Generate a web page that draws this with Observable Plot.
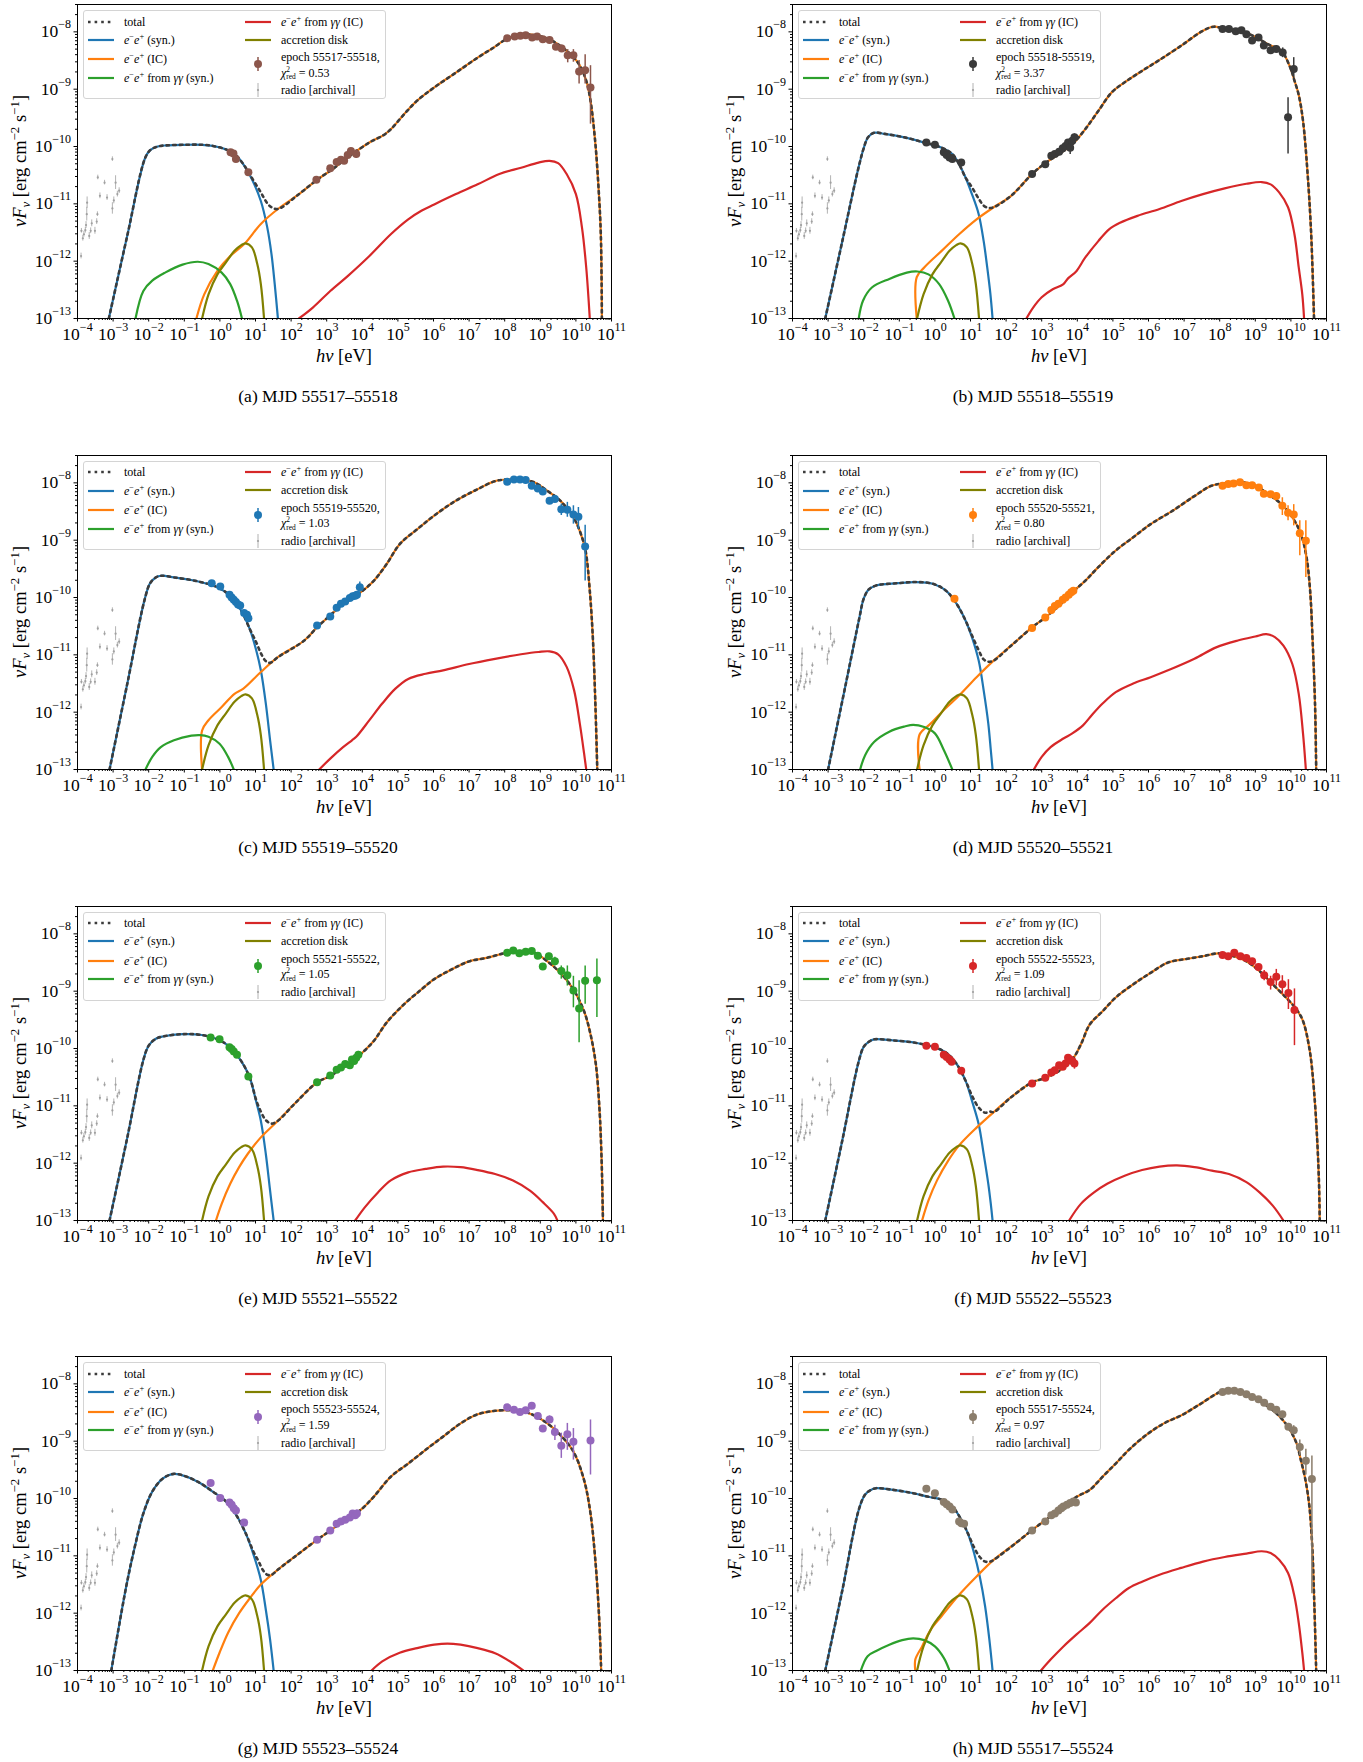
<!DOCTYPE html>
<html><head><meta charset="utf-8">
<script src="https://cdn.jsdelivr.net/npm/d3@7"></script>
<script src="https://cdn.jsdelivr.net/npm/@observablehq/plot@0.6"></script>
<style>
body{margin:0;background:#fff;}
#root{position:relative;width:1363px;height:1762px;font-family:"Liberation Serif","Times New Roman",serif;color:#000;overflow:hidden;}
.panel{position:absolute;}
.panel svg, .panel svg text{font-family:"Liberation Serif","Times New Roman",serif !important;}
.lbl{position:absolute;white-space:nowrap;font-size:18.5px;line-height:1;}
.cap{font-size:17.5px;}
.legend{position:absolute;width:303px;height:89px;box-sizing:border-box;border:1px solid #d4d4d4;border-radius:3px;background:rgba(255,255,255,0.8);font-size:12px;}
.li{position:absolute;white-space:nowrap;line-height:12px;height:12px;}
.hd{position:absolute;width:26px;height:12px;}
sup,sub{font-size:0.7em;line-height:0;}
.ss{display:inline-block;vertical-align:-0.35em;font-size:0.62em;line-height:1;}
.ss span{display:block;}
</style></head>
<body><div id="root"></div>
<script>
// ---------- axis ticks & labels ----------
const xTickExps = [-4,-3,-2,-1,0,1,2,3,4,5,6,7,8,9,10,11];
const yTickExps = [-13,-12,-11,-10,-9,-8];
const panelLetters = ["a","b","c","d","e","f","g","h"];
const mjdRanges = ["55517–55518","55518–55519","55519–55520","55520–55521","55521–55522","55522–55523","55523–55524","55517–55524"];
const epochLabels = ["55517-55518","55518-55519","55519-55520","55520-55521","55521-55522","55522-55523","55523-55524","55517-55524"];
const chi2 = ["0.53","3.37","1.03","0.80","1.05","1.09","1.59","0.97"];

// ---------- shared components: [log10 E/eV, log10 nuFnu] ----------
const disk = [[-0.5,-13],[-0.32,-12.58],[-0.07,-12.23],[0.17,-12.02],[0.41,-11.82],[0.6,-11.72],[0.72,-11.69],[0.9,-11.76],[1.05,-12.05],[1.15,-12.4],[1.24,-13]];
// radio archival: [logE, logF, err dex]
const radio = [[-3.9,-11.91,0.05],[-3.89,-11.47,0.04],[-3.85,-11.6,0.05],[-3.82,-11.53,0.05],[-3.78,-11.46,0.05],[-3.76,-11.37,0.06],[-3.74,-11.18,0.12],[-3.73,-10.98,0.1],[-3.67,-11.56,0.06],[-3.63,-11.47,0.05],[-3.6,-11.34,0.06],[-3.51,-11.47,0.06],[-3.46,-11.31,0.05],[-3.44,-11.18,0.04],[-3.43,-10.54,0.04],[-3.37,-10.86,0.05],[-3.24,-10.63,0.04],[-3.17,-10.89,0.05],[-3.02,-10.22,0.04],[-3.02,-11.08,0.1],[-2.98,-10.94,0.06],[-2.93,-10.63,0.12],[-2.88,-10.83,0.05],[-2.83,-10.77,0.05]];

// ---------- panel (a) ----------
const syn_a = [[-3.12,-13],[-2.6,-11.55],[-2.1,-10.2],[-1.95,-10.06],[-1.75,-10.0],[-1.5,-9.98],[-1.0,-9.97],[-0.5,-9.97],[-0.2,-9.99],[0.17,-10.05],[0.41,-10.13],[0.66,-10.31],[0.9,-10.57],[1.15,-10.95],[1.33,-11.41],[1.45,-11.88],[1.54,-12.4],[1.63,-13]];
const ic_a = [[-0.66,-13],[-0.44,-12.58],[-0.07,-12.17],[0.29,-11.91],[0.7,-11.69],[1.15,-11.35],[1.63,-11.09],[2.2,-10.84],[2.73,-10.58],[3.2,-10.38],[3.59,-10.19],[4.2,-9.93],[4.6,-9.8],[4.8,-9.7],[5.17,-9.44],[5.54,-9.2],[6.02,-8.97],[6.63,-8.71],[7.24,-8.45],[7.7,-8.27],[8.04,-8.13],[8.46,-8.05],[8.95,-8.07],[9.32,-8.15],[9.68,-8.3],[10.05,-8.53],[10.29,-8.85],[10.41,-9.2],[10.54,-9.9],[10.63,-10.66],[10.7,-11.53],[10.73,-13]];
const ggsyn_a = [[-2.37,-13],[-2.15,-12.52],[-1.9,-12.34],[-1.54,-12.2],[-1.05,-12.06],[-0.62,-12.01],[-0.32,-12.05],[0.05,-12.2],[0.29,-12.4],[0.48,-12.69],[0.62,-13]];
const ggic_a = [[2.22,-13],[2.61,-12.81],[3.1,-12.52],[3.59,-12.26],[4.2,-11.91],[4.8,-11.53],[5.29,-11.27],[5.66,-11.12],[6.02,-11.01],[6.63,-10.83],[7.24,-10.66],[7.85,-10.48],[8.46,-10.37],[8.95,-10.28],[9.26,-10.25],[9.5,-10.29],[9.74,-10.48],[10.0,-10.83],[10.17,-11.41],[10.29,-12.11],[10.39,-13]];
const bridge_a = [[0.9,-10.55],[1.15,-10.8],[1.33,-10.99],[1.45,-11.06]];
// observations: [logE, logF, err down (dex), err up (dex)]
const obs_a = [[0.30,-10.1,0,0],[0.38,-10.12,0,0],[0.45,-10.22,0.03,0.03],[0.8,-10.45,0.03,0.03],
[2.71,-10.58,0,0],[3.1,-10.38,0,0],[3.28,-10.27,0.03,0.03],[3.4,-10.23,0.04,0.04],[3.49,-10.25,0.05,0.05],[3.59,-10.15,0.05,0.05],[3.68,-10.08,0.05,0.05],[3.83,-10.13,0.08,0.08],
[8.07,-8.11,0.02,0.02],[8.28,-8.08,0.02,0.02],[8.44,-8.07,0.02,0.02],[8.59,-8.06,0.02,0.02],[8.77,-8.1,0.03,0.03],[8.91,-8.08,0.03,0.03],[9.07,-8.13,0.04,0.04],[9.26,-8.14,0.05,0.05],[9.44,-8.26,0.06,0.06],[9.6,-8.29,0.07,0.06],[9.77,-8.41,0.13,0.1],[9.93,-8.41,0.12,0.1],[10.09,-8.69,0.22,0.19],[10.26,-8.67,0.24,0.27],[10.41,-8.97,0.64,0.38]];

// ---------- panel (b) ----------
const syn_b = [[-3.08,-13],[-2.6,-11.65],[-2.15,-10.38],[-2.0,-10.03],[-1.88,-9.84],[-1.71,-9.76],[-1.41,-9.78],[-0.79,-9.85],[-0.3,-9.93],[0.19,-10.02],[0.49,-10.13],[0.68,-10.31],[0.86,-10.54],[1.04,-10.83],[1.23,-11.18],[1.37,-11.65],[1.47,-12.11],[1.56,-12.58],[1.62,-13]];
const ic_b = [[-0.51,-13],[-0.51,-12.28],[-0.3,-12.11],[0.19,-11.82],[0.68,-11.53],[1.17,-11.27],[1.65,-11.06],[2.14,-10.86],[2.73,-10.48],[3.12,-10.28],[3.49,-10.13],[3.86,-9.96],[4.22,-9.70],[4.59,-9.38],[4.96,-9.06],[5.33,-8.88],[5.82,-8.68],[6.31,-8.49],[6.92,-8.24],[7.53,-7.98],[7.84,-7.91],[8.14,-7.95],[8.63,-7.99],[9.0,-8.09],[9.37,-8.22],[9.73,-8.33],[9.98,-8.62],[10.1,-8.85],[10.22,-9.1],[10.34,-9.55],[10.47,-10.48],[10.57,-11.53],[10.65,-13]];
const ggsyn_b = [[-2.14,-13],[-2.02,-12.69],[-1.77,-12.46],[-1.28,-12.31],[-0.79,-12.2],[-0.49,-12.18],[-0.18,-12.23],[0.12,-12.4],[0.37,-12.69],[0.55,-13]];
const ggic_b = [[2.57,-13],[2.76,-12.81],[3.0,-12.63],[3.31,-12.49],[3.61,-12.4],[3.74,-12.3],[3.98,-12.17],[4.22,-11.94],[4.59,-11.65],[4.9,-11.44],[5.2,-11.33],[5.69,-11.21],[6.31,-11.09],[6.92,-10.95],[7.53,-10.83],[8.14,-10.73],[8.75,-10.65],[9.18,-10.62],[9.43,-10.66],[9.67,-10.8],[9.92,-11.06],[10.1,-11.53],[10.22,-12.11],[10.32,-12.58],[10.37,-13]];
const bridge_b = [[1.04,-10.71],[1.23,-10.91],[1.37,-11.03],[1.5,-11.07]];
const obs_b = [[-0.24,-9.93,0,0],[0.0,-9.97,0,0],[0.25,-10.1,0,0],[0.33,-10.15,0,0],[0.41,-10.19,0,0],[0.49,-10.22,0,0],[0.74,-10.28,0.03,0.03],
[2.73,-10.48,0,0],[3.1,-10.31,0,0],[3.27,-10.16,0,0],[3.37,-10.13,0,0],[3.49,-10.09,0,0],[3.59,-10.03,0.03,0.03],[3.67,-9.99,0.03,0.03],[3.74,-9.93,0.04,0.04],[3.8,-10.02,0.12,0.1],[3.86,-9.9,0.05,0.05],[3.92,-9.84,0.06,0.06],
[8.08,-7.95,0,0],[8.26,-7.95,0,0],[8.45,-7.99,0,0],[8.61,-7.97,0,0],[8.75,-8.04,0.02,0.02],[8.91,-8.15,0.03,0.03],[9.09,-8.1,0.03,0.03],[9.24,-8.24,0.04,0.04],[9.43,-8.32,0.05,0.05],[9.59,-8.3,0.06,0.06],[9.77,-8.36,0.09,0.08],[9.92,-9.49,0.64,0.34],[10.08,-8.65,0.2,0.2]];

// ---------- panel (c) ----------
const syn_c = [[-3.10,-13],[-2.6,-11.5],[-2.12,-10.05],[-1.96,-9.75],[-1.8,-9.65],[-1.65,-9.62],[-1.29,-9.65],[-0.68,-9.71],[-0.07,-9.82],[0.29,-9.97],[0.6,-10.23],[0.84,-10.55],[1.02,-10.92],[1.15,-11.27],[1.29,-11.85],[1.41,-12.49],[1.51,-13]];
const ic_c = [[-0.5,-13],[-0.5,-12.32],[-0.32,-12.14],[0.05,-11.91],[0.41,-11.68],[0.66,-11.59],[1.15,-11.3],[1.63,-11.04],[2.37,-10.75],[2.73,-10.52],[3.1,-10.31],[3.59,-10.05],[3.95,-9.91],[4.32,-9.71],[4.68,-9.42],[5.05,-9.07],[5.54,-8.81],[6.02,-8.57],[6.63,-8.31],[7.24,-8.11],[7.73,-7.97],[8.1,-7.94],[8.46,-7.94],[8.83,-7.99],[9.2,-8.14],[9.56,-8.31],[9.93,-8.6],[10.11,-8.84],[10.27,-9.18],[10.39,-9.88],[10.48,-10.75],[10.55,-11.91],[10.6,-13]];
const ggsyn_c = [[-2.09,-13],[-1.9,-12.78],[-1.66,-12.61],[-1.29,-12.49],[-0.8,-12.41],[-0.56,-12.4],[-0.32,-12.43],[-0.01,-12.55],[0.23,-12.78],[0.39,-13]];
const ggic_c = [[2.79,-13],[3.1,-12.81],[3.46,-12.61],[3.71,-12.49],[3.83,-12.43],[4.2,-12.14],[4.56,-11.85],[4.93,-11.59],[5.29,-11.42],[5.78,-11.33],[6.27,-11.27],[7.0,-11.16],[7.73,-11.07],[8.46,-10.99],[8.95,-10.95],[9.26,-10.94],[9.5,-10.99],[9.74,-11.21],[9.95,-11.62],[10.11,-12.2],[10.23,-12.72],[10.29,-13]];
const bridge_c = [[1.02,-10.78],[1.15,-10.97],[1.29,-11.11],[1.41,-11.14]];
const obs_c = [[-0.23,-9.75,0,0],[0.01,-9.81,0,0],[0.27,-9.95,0,0],[0.33,-10.0,0,0],[0.39,-10.04,0,0],[0.45,-10.08,0,0],[0.51,-10.12,0,0],[0.57,-10.14,0,0],[0.68,-10.27,0,0],[0.76,-10.3,0,0],[0.8,-10.36,0,0],
[2.73,-10.49,0,0],[3.1,-10.33,0,0],[3.28,-10.18,0,0],[3.4,-10.11,0,0],[3.52,-10.07,0,0],[3.65,-10.01,0.03,0.03],[3.73,-9.98,0.03,0.03],[3.8,-9.97,0.04,0.04],[3.85,-9.95,0.05,0.05],[3.93,-9.82,0.09,0.09],
[8.07,-7.98,0,0],[8.26,-7.94,0,0],[8.43,-7.94,0,0],[8.59,-7.95,0.02,0.02],[8.76,-8.05,0.02,0.02],[8.93,-8.1,0.03,0.03],[9.07,-8.15,0.03,0.03],[9.26,-8.31,0.05,0.05],[9.41,-8.28,0.06,0.06],[9.59,-8.46,0.11,0.09],[9.76,-8.47,0.13,0.13],[9.93,-8.55,0.17,0.15],[10.07,-8.59,0.22,0.16],[10.26,-9.11,0.6,0.37]];

// ---------- panel (d) ----------
const syn_d = [[-3.0,-13],[-2.5,-11.5],[-2.12,-10.35],[-2.0,-10.02],[-1.86,-9.86],[-1.65,-9.79],[-1.04,-9.75],[-0.55,-9.73],[-0.06,-9.76],[0.31,-9.88],[0.61,-10.11],[0.86,-10.4],[1.04,-10.69],[1.23,-11.1],[1.37,-11.62],[1.5,-12.2],[1.57,-12.66],[1.62,-13]];
const ic_d = [[-0.43,-13],[-0.43,-12.39],[-0.12,-12.2],[0.19,-12.0],[0.68,-11.71],[1.17,-11.39],[1.65,-11.1],[2.14,-10.84],[2.73,-10.52],[3.12,-10.34],[3.49,-10.14],[3.86,-9.91],[4.22,-9.71],[4.59,-9.47],[5.08,-9.18],[5.57,-8.95],[6.06,-8.72],[6.67,-8.49],[7.29,-8.23],[7.77,-8.05],[8.14,-8.01],[8.63,-7.99],[9.0,-8.05],[9.37,-8.2],[9.73,-8.37],[10.04,-8.6],[10.28,-8.89],[10.44,-9.3],[10.54,-9.88],[10.61,-10.75],[10.68,-11.91],[10.71,-13]];
const ggsyn_d = [[-2.1,-13],[-1.96,-12.75],[-1.71,-12.52],[-1.28,-12.34],[-0.85,-12.25],[-0.61,-12.22],[-0.3,-12.26],[0.0,-12.37],[0.25,-12.66],[0.49,-13]];
const ggic_d = [[2.78,-13],[3.0,-12.78],[3.25,-12.61],[3.61,-12.46],[3.86,-12.37],[4.16,-12.23],[4.41,-12.05],[4.71,-11.85],[5.08,-11.65],[5.57,-11.5],[6.06,-11.39],[6.67,-11.24],[7.29,-11.07],[7.9,-10.87],[8.51,-10.75],[9.0,-10.68],[9.31,-10.64],[9.55,-10.69],[9.79,-10.84],[10.04,-11.16],[10.22,-11.68],[10.34,-12.37],[10.42,-13]];
const bridge_d = [[1.04,-10.66],[1.23,-10.92],[1.37,-11.08],[1.5,-11.12]];
const obs_d = [[0.55,-10.02,0.03,0.03],
[2.73,-10.53,0,0],[3.1,-10.35,0,0],[3.27,-10.22,0,0],[3.37,-10.15,0,0],[3.47,-10.11,0,0],[3.59,-10.04,0.03,0.03],[3.67,-10.0,0.03,0.03],[3.76,-9.95,0.03,0.03],[3.83,-9.91,0.04,0.04],[3.89,-9.88,0.05,0.05],
[8.08,-8.05,0,0],[8.24,-8.02,0,0],[8.39,-8.01,0,0],[8.57,-7.99,0.02,0.02],[8.75,-8.04,0.02,0.02],[8.91,-8.04,0.02,0.02],[9.1,-8.08,0.03,0.03],[9.24,-8.19,0.04,0.04],[9.43,-8.2,0.05,0.05],[9.59,-8.23,0.06,0.06],[9.76,-8.4,0.17,0.14],[9.92,-8.52,0.14,0.12],[10.08,-8.55,0.2,0.17],[10.25,-8.88,0.39,0.22],[10.42,-9.01,0.64,0.35]];

// ---------- panel (e) ----------
const syn_e = [[-3.1,-13],[-2.6,-11.55],[-2.15,-10.2],[-2.0,-9.95],[-1.8,-9.83],[-1.6,-9.79],[-1.05,-9.75],[-0.56,-9.76],[-0.07,-9.84],[0.29,-9.98],[0.6,-10.22],[0.84,-10.51],[1.02,-10.93],[1.15,-11.26],[1.29,-11.84],[1.41,-12.48],[1.51,-13]];
const ic_e = [[-0.11,-13],[0.05,-12.71],[0.29,-12.36],[0.54,-12.07],[0.78,-11.84],[1.15,-11.55],[1.63,-11.26],[2.12,-10.95],[2.73,-10.59],[3.1,-10.48],[3.59,-10.27],[3.95,-10.1],[4.32,-9.87],[4.68,-9.55],[5.17,-9.23],[5.66,-8.97],[6.02,-8.79],[6.51,-8.62],[7.0,-8.48],[7.49,-8.42],[7.98,-8.34],[8.46,-8.3],[8.83,-8.33],[9.2,-8.48],[9.56,-8.68],[9.93,-8.97],[10.23,-9.35],[10.41,-9.75],[10.56,-10.27],[10.66,-11.03],[10.72,-11.9],[10.76,-13]];
const ggsyn_e = [];
const ggic_e = [[3.8,-13],[4.07,-12.77],[4.44,-12.51],[4.8,-12.3],[5.29,-12.16],[5.78,-12.1],[6.27,-12.06],[6.76,-12.07],[7.24,-12.12],[7.73,-12.19],[8.22,-12.3],[8.71,-12.48],[9.07,-12.68],[9.38,-12.88],[9.48,-13]];
const bridge_e = [[1.02,-10.9],[1.15,-11.1],[1.29,-11.25],[1.45,-11.31]];
const obs_e = [[-0.26,-9.81,0,0],[-0.01,-9.84,0,0],[0.27,-9.98,0,0],[0.33,-10.01,0,0],[0.39,-10.05,0,0],[0.48,-10.11,0,0],[0.8,-10.49,0,0],
[2.73,-10.59,0,0],[3.1,-10.47,0,0],[3.28,-10.37,0,0],[3.4,-10.33,0,0],[3.52,-10.27,0,0],[3.65,-10.29,0.03,0.03],[3.71,-10.19,0.03,0.03],[3.77,-10.22,0.04,0.04],[3.83,-10.16,0.05,0.05],[3.89,-10.11,0.06,0.06],
[8.07,-8.33,0,0],[8.24,-8.29,0,0],[8.41,-8.34,0,0],[8.59,-8.31,0,0],[8.76,-8.3,0.02,0.02],[8.93,-8.38,0.03,0.03],[9.07,-8.57,0.04,0.04],[9.24,-8.39,0.05,0.05],[9.41,-8.48,0.08,0.07],[9.59,-8.65,0.14,0.09],[9.76,-8.72,0.19,0.16],[9.93,-8.99,0.3,0.25],[10.09,-9.3,0.6,0.48],[10.26,-8.82,0.41,0.26],[10.59,-8.81,0.65,0.37]];

// ---------- panel (f) ----------
const syn_f = [[-3.08,-13],[-2.6,-11.6],[-2.15,-10.25],[-2.0,-9.97],[-1.85,-9.88],[-1.71,-9.84],[-1.16,-9.86],[-0.55,-9.9],[-0.06,-9.97],[0.31,-10.07],[0.61,-10.27],[0.86,-10.56],[1.04,-10.91],[1.23,-11.32],[1.37,-11.84],[1.5,-12.36],[1.57,-12.71],[1.62,-13]];
const ic_f = [[-0.36,-13],[-0.18,-12.65],[0.06,-12.3],[0.37,-11.96],[0.68,-11.69],[1.17,-11.38],[1.65,-11.11],[2.14,-10.85],[2.73,-10.59],[3.12,-10.51],[3.49,-10.39],[3.86,-10.19],[4.1,-9.93],[4.35,-9.58],[4.71,-9.35],[5.08,-9.11],[5.57,-8.88],[6.06,-8.68],[6.55,-8.5],[7.04,-8.44],[7.53,-8.39],[7.96,-8.34],[8.39,-8.39],[8.75,-8.48],[9.12,-8.65],[9.49,-8.88],[9.86,-9.11],[10.16,-9.32],[10.34,-9.52],[10.53,-10.04],[10.65,-10.74],[10.74,-11.61],[10.79,-12.36],[10.81,-13]];
const ggsyn_f = [];
const ggic_f = [[3.77,-13],[4.1,-12.71],[4.47,-12.51],[4.84,-12.36],[5.33,-12.22],[5.82,-12.12],[6.31,-12.06],[6.8,-12.04],[7.29,-12.07],[7.78,-12.13],[8.26,-12.19],[8.75,-12.33],[9.12,-12.51],[9.49,-12.74],[9.79,-13]];
const bridge_f = [[1.04,-10.82],[1.23,-11.03],[1.41,-11.12],[1.55,-11.1]];
const obs_f = [[-0.24,-9.95,0,0],[0.0,-9.97,0,0],[0.25,-10.11,0,0],[0.33,-10.15,0,0],[0.41,-10.19,0,0],[0.47,-10.23,0,0],[0.74,-10.39,0.03,0.03],
[2.73,-10.61,0,0],[3.1,-10.51,0,0],[3.27,-10.42,0,0],[3.37,-10.38,0,0],[3.49,-10.29,0,0],[3.59,-10.32,0.03,0.03],[3.67,-10.26,0.03,0.03],[3.74,-10.16,0.05,0.05],[3.8,-10.19,0.05,0.05],[3.86,-10.22,0.06,0.06],[3.92,-10.26,0.1,0.08],
[8.08,-8.37,0,0],[8.24,-8.39,0,0],[8.41,-8.33,0,0],[8.58,-8.39,0.02,0.02],[8.75,-8.42,0.02,0.02],[8.91,-8.48,0.03,0.03],[9.09,-8.58,0.05,0.05],[9.25,-8.72,0.1,0.08],[9.43,-8.84,0.14,0.1],[9.59,-8.75,0.16,0.13],[9.76,-8.88,0.17,0.15],[9.93,-9.03,0.29,0.23],[10.1,-9.33,0.62,0.37]];

// ---------- panel (g) ----------
const syn_g = [[-3.05,-13],[-2.63,-11.53],[-2.39,-10.84],[-2.15,-10.26],[-1.9,-9.88],[-1.6,-9.65],[-1.29,-9.57],[-0.93,-9.62],[-0.56,-9.73],[-0.2,-9.88],[0.17,-10.05],[0.48,-10.31],[0.72,-10.6],[0.96,-11.01],[1.15,-11.42],[1.29,-11.94],[1.41,-12.46],[1.51,-13]];
const ic_g = [[-0.2,-13],[-0.01,-12.69],[0.23,-12.34],[0.54,-12.0],[0.84,-11.74],[1.15,-11.5],[1.63,-11.24],[2.24,-10.95],[2.73,-10.72],[3.1,-10.56],[3.59,-10.34],[3.95,-10.2],[4.32,-9.97],[4.8,-9.62],[5.29,-9.39],[5.78,-9.15],[6.27,-8.92],[6.76,-8.69],[7.24,-8.53],[7.73,-8.47],[8.16,-8.46],[8.46,-8.47],[8.83,-8.55],[9.2,-8.69],[9.56,-8.89],[9.93,-9.18],[10.23,-9.68],[10.41,-10.26],[10.56,-11.18],[10.66,-12.17],[10.71,-13]];
const ggsyn_g = [];
const ggic_g = [[4.26,-13],[4.56,-12.84],[5.05,-12.69],[5.54,-12.61],[6.02,-12.55],[6.39,-12.53],[6.76,-12.55],[7.24,-12.61],[7.73,-12.7],[8.22,-12.87],[8.52,-13]];
const bridge_g = [[0.96,-10.95],[1.09,-11.1],[1.21,-11.25],[1.33,-11.33],[1.45,-11.33]];
const obs_g = [[-0.26,-9.73,0.03,0.03],[0.01,-9.99,0,0],[0.27,-10.07,0,0],[0.33,-10.11,0,0],[0.39,-10.17,0,0],[0.45,-10.21,0,0],[0.68,-10.42,0.03,0.03],
[2.73,-10.72,0,0],[3.1,-10.56,0,0],[3.28,-10.44,0,0],[3.4,-10.4,0,0],[3.52,-10.37,0,0],[3.65,-10.33,0.03,0.03],[3.73,-10.26,0.03,0.03],[3.8,-10.29,0.04,0.04],[3.85,-10.26,0.06,0.06],
[8.07,-8.41,0,0],[8.26,-8.45,0,0],[8.43,-8.49,0,0],[8.59,-8.46,0,0],[8.76,-8.38,0.02,0.02],[8.93,-8.56,0.03,0.03],[9.07,-8.78,0.04,0.04],[9.26,-8.62,0.06,0.06],[9.41,-8.84,0.15,0.12],[9.59,-9.08,0.22,0.22],[9.76,-8.88,0.28,0.19],[9.93,-9.01,0.32,0.23],[10.41,-8.99,0.6,0.36]];

// ---------- panel (h) ----------
const syn_h = [[-3.08,-13],[-2.6,-11.6],[-2.14,-10.2],[-1.96,-9.93],[-1.8,-9.85],[-1.65,-9.82],[-1.28,-9.84],[-0.67,-9.9],[-0.18,-9.97],[0.19,-10.02],[0.49,-10.14],[0.74,-10.37],[0.92,-10.6],[1.1,-10.95],[1.26,-11.36],[1.41,-11.88],[1.53,-12.46],[1.62,-13]];
const ic_h = [[-0.55,-13],[-0.55,-12.81],[-0.36,-12.58],[-0.12,-12.29],[0.19,-12.05],[0.68,-11.68],[1.17,-11.36],[1.65,-11.07],[2.27,-10.78],[2.73,-10.55],[3.12,-10.37],[3.49,-10.2],[3.98,-9.97],[4.35,-9.85],[4.71,-9.62],[5.08,-9.39],[5.45,-9.15],[5.94,-8.89],[6.43,-8.69],[6.92,-8.55],[7.41,-8.37],[8.02,-8.14],[8.33,-8.11],[8.63,-8.14],[9.0,-8.26],[9.37,-8.4],[9.73,-8.6],[9.98,-8.81],[10.16,-9.04],[10.28,-9.33],[10.41,-9.68],[10.52,-10.14],[10.6,-10.84],[10.66,-11.88],[10.71,-13]];
const ggsyn_h = [[-2.08,-13],[-1.89,-12.75],[-1.65,-12.66],[-1.28,-12.55],[-0.92,-12.47],[-0.61,-12.44],[-0.3,-12.47],[0.0,-12.58],[0.25,-12.78],[0.41,-13]];
const ggic_h = [[2.98,-13],[3.25,-12.81],[3.61,-12.58],[3.98,-12.37],[4.35,-12.17],[4.71,-11.94],[5.08,-11.74],[5.45,-11.56],[5.82,-11.45],[6.31,-11.33],[6.92,-11.21],[7.53,-11.1],[8.14,-11.02],[8.75,-10.96],[9.18,-10.92],[9.43,-10.95],[9.67,-11.07],[9.92,-11.3],[10.1,-11.71],[10.22,-12.17],[10.32,-12.69],[10.37,-13]];
const bridge_h = [[0.92,-10.6],[1.1,-10.85],[1.26,-11.02],[1.41,-11.1],[1.55,-11.1]];
const obs_h = [[-0.24,-9.83,0.05,0.05],[0.0,-9.91,0.04,0.04],[0.25,-10.06,0,0],[0.33,-10.1,0,0],[0.41,-10.14,0,0],[0.49,-10.19,0,0],[0.68,-10.4,0.03,0.03],[0.74,-10.43,0,0],[0.82,-10.44,0,0],
[2.73,-10.56,0,0],[3.1,-10.4,0,0],[3.27,-10.29,0,0],[3.37,-10.26,0,0],[3.47,-10.21,0,0],[3.55,-10.17,0,0],[3.61,-10.14,0,0],[3.71,-10.11,0.03,0.03],[3.8,-10.08,0.03,0.03],[3.89,-10.05,0.04,0.04],[3.96,-10.07,0.06,0.06],
[8.08,-8.14,0,0],[8.24,-8.12,0,0],[8.41,-8.12,0,0],[8.58,-8.14,0,0],[8.75,-8.18,0,0],[8.91,-8.23,0,0],[9.09,-8.27,0.02,0.02],[9.25,-8.33,0.02,0.02],[9.43,-8.4,0.03,0.03],[9.59,-8.45,0.03,0.03],[9.76,-8.53,0.04,0.04],[9.93,-8.75,0.06,0.06],[10.08,-8.81,0.08,0.08],[10.25,-9.1,0.15,0.12],[10.42,-9.34,0.25,0.2],[10.59,-9.66,2.0,0.4]];

// ---------- styles ----------
const C = {syn:"#1f77b4", ic:"#ff7f0e", ggsyn:"#2ca02c", ggic:"#d62728", disk:"#808000", total:"#3c3c3c", radio:"#a0a0a0"};
const obsColors = ["#8c564b","#3a3a3a","#1f77b4","#ff7f0e","#2ca02c","#d62728","#9467bd","#8b7d6b"];

const synAll = [syn_a,syn_b,syn_c,syn_d,syn_e,syn_f,syn_g,syn_h];
const icAll = [ic_a,ic_b,ic_c,ic_d,ic_e,ic_f,ic_g,ic_h];
const ggsynAll = [ggsyn_a,ggsyn_b,ggsyn_c,ggsyn_d,ggsyn_e,ggsyn_f,ggsyn_g,ggsyn_h];
const ggicAll = [ggic_a,ggic_b,ggic_c,ggic_d,ggic_e,ggic_f,ggic_g,ggic_h];
const bridgeAll = [bridge_a,bridge_b,bridge_c,bridge_d,bridge_e,bridge_f,bridge_g,bridge_h];
const obsAll = [obs_a,obs_b,obs_c,obs_d,obs_e,obs_f,obs_g,obs_h];

function joinTotal(syn, bridge, ic) {
  const lo = bridge[0][0], hi = bridge[bridge.length-1][0];
  return [...syn.filter(d => d[0] < lo), ...bridge, ...ic.filter(d => d[0] > hi)];
}

const xMinor = [];
for (let e = -4; e < 11; e++) for (let m = 2; m < 10; m++) xMinor.push(m * 10 ** e);
const yMinor = [];
for (let e = -13; e < -7; e++) for (let m = 2; m < 10; m++) { const v = m * 10 ** e; if (v <= 3.0001e-8) yMinor.push(v); }
const fmt = v => { const e = Math.round(Math.log10(v)); return "10^" + (e < 0 ? "−" + (-e) : String(e)); };

const X = d => 10 ** d[0], Y = d => 10 ** d[1];
const root = document.getElementById("root");
const FW = 534, FH = 314;
const FONT = "'Liberation Serif','Times New Roman',serif";

function lineMark(data, stroke, extra = {}) {
  return Plot.line(data, {x: X, y: Y, stroke, strokeWidth: 2.2, curve: "catmull-rom", clip: true, ...extra});
}

const ee = `<i>e</i><sup>−</sup><i>e</i><sup>+</sup>`;
function hLine(c, dash) {
  return `<svg width="26" height="12"><line x1="0" y1="6" x2="26" y2="6" stroke="${c}" stroke-width="${dash ? 2.6 : 2.2}" ${dash ? 'stroke-dasharray="2.6 4"' : ''}/></svg>`;
}
function hMarker(c) {
  return `<svg width="26" height="14"><line x1="13" y1="0" x2="13" y2="14" stroke="${c}" stroke-width="1.5"/><circle cx="13" cy="7" r="4" fill="${c}"/></svg>`;
}
function hRadio() {
  return `<svg width="26" height="14"><line x1="13" y1="0" x2="13" y2="14" stroke="${C.radio}" stroke-width="0.8"/><circle cx="13" cy="7" r="1.1" fill="${C.radio}"/></svg>`;
}

function addDiv(cls, html, style) {
  const d = document.createElement("div");
  d.className = cls; d.innerHTML = html; Object.assign(d.style, style);
  return d;
}

for (let i = 0; i < 8; i++) {
  const col = i % 2, row = Math.floor(i / 2);
  const fl = col ? 792 : 77;
  const ft = 4 + row * 450.8;
  const fb = ft + FH;
  const oc = obsColors[i];
  const obs = obsAll[i];
  const obsErr = obs.filter(d => d[2] > 0 || d[3] > 0);
  const total = joinTotal(synAll[i], bridgeAll[i], icAll[i]);

  const svg = Plot.plot({
    width: 631, height: 348,
    marginLeft: 77, marginRight: 20, marginTop: 4, marginBottom: 30,
    x: {type: "log", domain: [1e-4, 1e11]},
    y: {type: "log", domain: [1e-13, 3e-8]},
    style: {fontFamily: FONT, fontSize: "17.5px", background: "transparent", color: "#000", overflow: "visible"},
    marks: [
      Plot.axisX({ticks: xMinor, tickSize: 2, tickFormat: () => "", label: null}),
      Plot.axisY({ticks: yMinor, tickSize: 2, tickFormat: () => "", label: null}),
      Plot.axisX({ticks: xTickExps.map(e => 10 ** e), tickSize: 3.5, tickPadding: 5.5, tickFormat: fmt, label: null, fontFamily: FONT}),
      Plot.axisY({ticks: yTickExps.map(e => 10 ** e), tickSize: 3.5, tickPadding: 3, tickFormat: fmt, label: null, fontFamily: FONT}),
      Plot.ruleX(radio, {x: X, y1: d => 10 ** (d[1] - d[2]), y2: d => 10 ** (d[1] + d[2]), stroke: C.radio, strokeWidth: 0.8, clip: true}),
      Plot.dot(radio, {x: X, y: Y, r: 1.1, fill: C.radio, clip: true}),
      lineMark(synAll[i], C.syn),
      lineMark(icAll[i], C.ic),
      lineMark(ggsynAll[i], C.ggsyn),
      lineMark(ggicAll[i], C.ggic),
      lineMark(disk, C.disk),
      lineMark(total, C.total, {strokeWidth: 2.6, strokeDasharray: "2.6 4"}),
      Plot.ruleX(obsErr, {x: X, y1: d => 10 ** (d[1] - d[2]), y2: d => 10 ** (d[1] + d[3]), stroke: oc, strokeWidth: 1.5, clip: true}),
      Plot.dot(obs, {x: X, y: Y, r: 4, fill: oc, clip: true}),
      Plot.frame({stroke: "#000", strokeWidth: 1})
    ]
  });
  svg.setAttribute("font-family", FONT);

  // superscript exponents on tick labels
  svg.querySelectorAll("text").forEach(t => {
    const m = /^10\^(.+)$/.exec(t.textContent);
    if (!m) return;
    t.textContent = "10";
    const ts = document.createElementNS("http://www.w3.org/2000/svg", "tspan");
    ts.setAttribute("font-size", "12px");
    ts.setAttribute("dy", "-9");
    ts.textContent = m[1];
    t.appendChild(ts);
  });

  const wrap = document.createElement("div");
  wrap.className = "panel";
  Object.assign(wrap.style, {left: (fl - 77) + "px", top: (ft - 4) + "px", width: "631px", height: "348px"});
  wrap.appendChild(svg);
  root.appendChild(wrap);

  // legend
  const lg = addDiv("legend", "", {left: (fl + 6) + "px", top: (ft + 6) + "px"});
  const items = [
    [4, 40, 10.7, hLine(C.total, true), "total"],
    [4, 40, 28.9, hLine(C.syn), `${ee} (syn.)`],
    [4, 40, 48.2, hLine(C.ic), `${ee} (IC)`],
    [4, 40, 66.8, hLine(C.ggsyn), `${ee} from <i>γγ</i> (syn.)`],
    [161, 197, 10.7, hLine(C.ggic), `${ee} from <i>γγ</i> (IC)`],
    [161, 197, 28.5, hLine(C.disk), `accretion disk`],
    [161, 197, 53.4, hMarker(oc), null],
    [161, 197, 79.3, hRadio(), `radio [archival]`]
  ];
  items.forEach(([hx, tx, cy, handle, text]) => {
    const hh = handle.includes('height="14"') ? 14 : 12;
    lg.appendChild(addDiv("hd", handle, {left: hx + "px", top: (cy - hh / 2) + "px", height: hh + "px"}));
    if (text !== null) lg.appendChild(addDiv("li", text, {left: tx + "px", top: (cy - 6) + "px"}));
  });
  lg.appendChild(addDiv("li", `epoch ${epochLabels[i]},`, {left: "197px", top: (46 - 6) + "px"}));
  lg.appendChild(addDiv("li", `<i>χ</i><span class="ss"><span>2</span><span>red</span></span> = ${chi2[i]}`, {left: "197px", top: (60.7 - 6) + "px"}));
  root.appendChild(lg);

  // axis labels & caption
  root.appendChild(addDiv("lbl", `<i>ν</i><i>F</i><sub><i>ν</i></sub> [erg cm<sup>−2</sup> s<sup>−1</sup>]`,
    {left: (fl - 57) + "px", top: (ft + FH / 2) + "px", transform: "translate(-50%,-50%) rotate(-90deg)"}));
  root.appendChild(addDiv("lbl", `<i>hν</i> [eV]`,
    {left: (fl + FW / 2) + "px", top: (fb + 38) + "px", transform: "translate(-50%,-50%)"}));
  root.appendChild(addDiv("lbl cap", `(${panelLetters[i]}) MJD ${mjdRanges[i]}`,
    {left: (fl + 241) + "px", top: (fb + 79) + "px", transform: "translate(-50%,-50%)"}));
}
</script></body></html>
